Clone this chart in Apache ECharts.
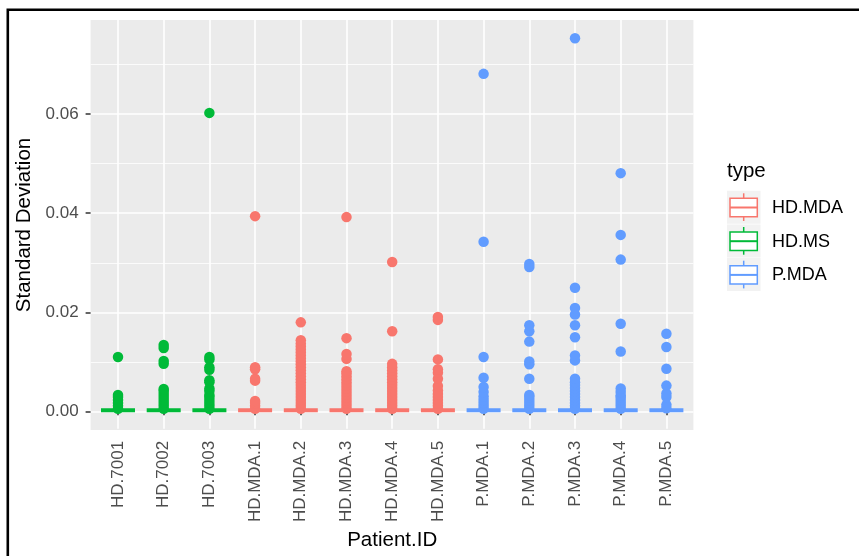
<!DOCTYPE html>
<html><head><meta charset="utf-8">
<script src="https://cdn.jsdelivr.net/npm/echarts@6/dist/echarts.min.js"></script>
<style>html,body{margin:0;padding:0;background:#fff;} #c{width:859px;height:556px;}</style>
</head><body><div id="c"></div>
<script>
// ---- data ----
const categories = ['HD.7001','HD.7002','HD.7003','HD.MDA.1','HD.MDA.2','HD.MDA.3','HD.MDA.4','HD.MDA.5','P.MDA.1','P.MDA.2','P.MDA.3','P.MDA.4','P.MDA.5'];
const categoryType = ['HD.MS','HD.MS','HD.MS','HD.MDA','HD.MDA','HD.MDA','HD.MDA','HD.MDA','P.MDA','P.MDA','P.MDA','P.MDA','P.MDA'];
const typeNames = ['HD.MDA','HD.MS','P.MDA'];
const yTicks = [0, 0.02, 0.04, 0.06];
const yMinorTicks = [0.01, 0.03, 0.05, 0.07];
// box statistics [lower whisker, Q1, median, Q3, upper whisker] per category
const boxStats = [
  [0,0,0,0,0],[0,0,0,0,0],[0,0,0,0,0],[0,0,0,0,0],[0,0,0,0,0],[0,0,0,0,0],[0,0,0,0,0],
  [0,0,0,0,0],[0,0,0,0,0],[0,0,0,0,0],[0,0,0,0,0],[0,0,0,0,0],[0,0,0,0,0]
];
// outliers per category
const outHD7001 = [0.0003,0.0009,0.0015,0.0021,0.0027,0.0031,0.0108];
const outHD7002 = [0.0003,0.0009,0.0015,0.0021,0.0027,0.0033,0.0039,0.0043,0.0094,0.0100,0.0126,0.0132];
const outHD7003 = [0.0003,0.0009,0.0015,0.0021,0.0027,0.0031,0.0039,0.0044,0.0057,0.0061,0.0082,0.0087,0.0103,0.0108,0.0602];
const outHDMDA1 = [0.0003,0.0009,0.0015,0.0019,0.0060,0.0064,0.0083,0.0087,0.0393];
const outHDMDA2 = [0.0003,0.0009,0.0015,0.0021,0.0027,0.0033,0.0039,0.0045,0.0051,0.0057,0.0063,0.0069,0.0075,0.0081,0.0087,0.0093,0.0099,0.0105,0.0111,0.0117,0.0123,0.0129,0.0135,0.0142,0.0178];
const outHDMDA3 = [0.0003,0.0009,0.0015,0.0021,0.0027,0.0033,0.0039,0.0045,0.0051,0.0057,0.0063,0.0069,0.0075,0.0079,0.0104,0.0114,0.0146,0.0391];
const outHDMDA4 = [0.0003,0.0009,0.0015,0.0021,0.0027,0.0033,0.0039,0.0045,0.0051,0.0057,0.0063,0.0069,0.0075,0.0081,0.0087,0.0094,0.0160,0.0300];
const outHDMDA5 = [0.0003,0.0009,0.0015,0.0021,0.0027,0.0033,0.0040,0.0049,0.0064,0.0076,0.0083,0.0103,0.0183,0.0189];
const outPMDA1 = [0.0003,0.0009,0.0015,0.0021,0.0028,0.0037,0.0047,0.0066,0.0108,0.0341,0.0681];
const outPMDA2 = [0.0003,0.0009,0.0015,0.0021,0.0027,0.0031,0.0064,0.0093,0.0099,0.0139,0.0160,0.0172,0.0290,0.0296];
const outPMDA3 = [0.0003,0.0009,0.0015,0.0021,0.0027,0.0033,0.0039,0.0045,0.0051,0.0057,0.0064,0.0101,0.0111,0.0148,0.0172,0.0194,0.0207,0.0248,0.0753];
const outPMDA4 = [0.0003,0.0009,0.0015,0.0021,0.0027,0.0030,0.0037,0.0044,0.0119,0.0175,0.0305,0.0355,0.0480];
const outPMDA5 = [0.0004,0.0011,0.0027,0.0034,0.0050,0.0084,0.0128,0.0155];
const outliers = [outHD7001,outHD7002,outHD7003,outHDMDA1,outHDMDA2,outHDMDA3,outHDMDA4,outHDMDA5,outPMDA1,outPMDA2,outPMDA3,outPMDA4,outPMDA5];

// ---- styles ----
const typeColor = {'HD.MDA':'#F8766D','HD.MS':'#00BA38','P.MDA':'#619CFF'};
const FONT = '"Liberation Sans", Arial, sans-serif';
const yMin = -0.00376, yMax = 0.079;

const scatterSeries = typeNames.map(t => {
  const pts = [];
  categories.forEach((c, i) => {
    if (categoryType[i] === t) outliers[i].forEach(v => pts.push([i, v]));
  });
  return {
    type: 'scatter', name: t, xAxisIndex: 1, yAxisIndex: 2, data: pts,
    symbolSize: 10.5, itemStyle: {color: typeColor[t], opacity: 1}, z: 2,
    emphasis: {disabled: true}, silent: true
  };
});

const legendGraphics = [];
typeNames.forEach((t, k) => {
  const x0 = 727, y0 = 190.7 + k * 33.7, col = typeColor[t];
  legendGraphics.push(
    {type:'rect', shape:{x:x0, y:y0, width:33.5, height:33}, style:{fill:'#F2F2F2'}, silent:true},
    {type:'line', shape:{x1:x0+16.7, y1:y0+2.6, x2:x0+16.7, y2:y0+7.6}, style:{stroke:col, lineWidth:1.5}, silent:true},
    {type:'line', shape:{x1:x0+16.7, y1:y0+26, x2:x0+16.7, y2:y0+30.3}, style:{stroke:col, lineWidth:1.5}, silent:true},
    {type:'rect', shape:{x:x0+3, y:y0+7.6, width:27.3, height:18.4}, style:{fill:'#fff', stroke:col, lineWidth:1.5}, silent:true},
    {type:'line', shape:{x1:x0+3, y1:y0+16.8, x2:x0+30.3, y2:y0+16.8}, style:{stroke:col, lineWidth:2}, silent:true},
    {type:'text', style:{x:772, y:y0+17.3, text:t, fill:'#000', font:'18px ' + FONT, textVerticalAlign:'middle', textAlign:'left'}, silent:true}
  );
});

const option = {
  animation: false,
  backgroundColor: '#fff',
  textStyle: {fontFamily: FONT},
  grid: [
    {left: 90.6, top: 20, width: 602.8, height: 410, show: true, backgroundColor: '#EBEBEB', borderWidth: 0},
    {left: 118, top: 20, width: 548.4, height: 410, show: false}
  ],
  xAxis: [
    {type: 'value', gridIndex: 0, show: false, min: 0, max: 1},
    {type: 'category', gridIndex: 1, data: categories, boundaryGap: false,
      axisLine: {show: false},
      axisTick: {show: true, interval: 0, length: 5, lineStyle: {color: '#333333', width: 1.5}},
      axisLabel: {interval: 0, rotate: 90, fontSize: 17, color: '#4D4D4D', margin: 12, fontFamily: FONT},
      splitLine: {show: true, interval: 0, lineStyle: {color: '#FFFFFF', width: 1.6}},
      name: 'Patient.ID', nameLocation: 'middle', nameGap: 99,
      nameTextStyle: {fontSize: 20.5, color: '#000', fontFamily: FONT}
    }
  ],
  yAxis: [
    {type: 'value', gridIndex: 0, min: yMin, max: yMax,
      axisLine: {show: false},
      axisTick: {show: true, length: 5, customValues: yTicks, lineStyle: {color: '#333333', width: 1.5}},
      axisLabel: {customValues: yTicks, fontSize: 17, color: '#4D4D4D', margin: 12, fontFamily: FONT,
        formatter: v => Number(v).toFixed(2)},
      splitLine: {show: true, lineStyle: {color: '#FFFFFF', width: 1.6}},
      name: 'Standard Deviation', nameLocation: 'middle', nameGap: 50,
      nameTextStyle: {fontSize: 20.5, color: '#000', fontFamily: FONT}
    },
    {type: 'value', gridIndex: 0, min: yMin, max: yMax, position: 'left',
      axisLine: {show: false},
      axisTick: {show: false, customValues: yMinorTicks},
      axisLabel: {show: false, customValues: yMinorTicks},
      splitLine: {show: true, lineStyle: {color: '#FFFFFF', width: 0.8}}
    },
    {type: 'value', gridIndex: 1, min: yMin, max: yMax, show: false, splitLine: {show: false}}
  ],
  series: [
    ...scatterSeries,
    {type: 'boxplot', xAxisIndex: 1, yAxisIndex: 2, boxWidth: [34, 34], z: 3, silent: true,
      emphasis: {disabled: true},
      data: categories.map((c, i) => ({
        value: boxStats[i],
        itemStyle: {color: '#FFFFFF', borderColor: typeColor[categoryType[i]], borderWidth: 4}
      }))
    }
  ],
  graphic: [
    {type: 'rect', shape: {x: 7.8, y: 9.8, width: 900, height: 600}, style: {fill: 'none', stroke: '#000', lineWidth: 2.6}, silent: true, z: 100},
    {type: 'text', style: {x: 727, y: 171, text: 'type', fill: '#000', font: '20.5px ' + FONT, textVerticalAlign: 'middle', textAlign: 'left'}, silent: true},
    ...legendGraphics
  ]
};

const chart = echarts.init(document.getElementById('c'), null, {renderer: 'canvas'});
chart.setOption(option);
</script>
</body></html>
